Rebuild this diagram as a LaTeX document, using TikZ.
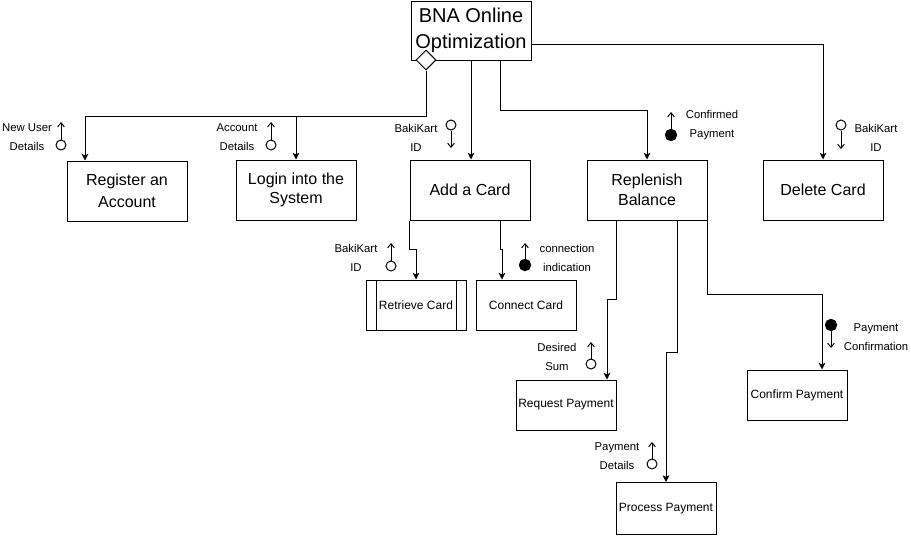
\documentclass[tikz,border=0pt]{standalone}
\usepackage{fontspec}
\setmainfont{Liberation Sans}
\usetikzlibrary{arrows.meta,calc,shapes.geometric}
\begin{document}
\begin{tikzpicture}[x=0.75pt,y=-0.75pt,
  every node/.style={inner sep=0pt},
  proc/.style={draw, line width=0.75pt, align=center, minimum width=90pt, minimum height=45pt, font=\fontsize{12}{14.6}\selectfont},
  subproc/.style={draw, line width=0.75pt, align=center, minimum width=75pt, minimum height=37.5pt, font=\fontsize{9}{10.8}\selectfont},
  conn/.style={line width=0.75pt, -{Stealth[length=5pt,width=5pt,inset=1.2pt]}},
  lbl/.style={align=center, font=\fontsize{8.5}{14.25}\selectfont},
  oc/.style={circle, draw, line width=0.75pt, fill=white, minimum size=7.5pt},
  fc/.style={circle, draw, fill=black, line width=0.75pt, minimum size=8.5pt},
  flow/.style={line width=0.75pt, -{Straight Barb[length=3pt,width=5pt]}},
]
\useasboundingbox (0,0) rectangle (911,536);

% boxes
\node[proc, minimum height=44.25pt, font=\fontsize{15}{19.5}\selectfont] (root) at (471,30.5) {BNA Online\\Optimization};
\node[proc, font=\fontsize{12}{16.5}\selectfont] (reg) at (127,191) {Register an\\Account};
\node[proc] (login) at (296,190) {Login into the\\System};
\node[proc] (add) at (470,190) {Add a Card};
\node[proc] (rep) at (647,190) {Replenish\\Balance};
\node[proc] (del) at (823,190) {Delete Card};
\node[subproc] (ret) at (416,305) {Retrieve Card};
\node[subproc] (con) at (526,305) {Connect Card};
\node[subproc] (req) at (566,405) {Request Payment};
\node[subproc] (cnf) at (797,395) {Confirm Payment};
\node[subproc, minimum height=39pt] (pro) at (666,508.5) {Process Payment};

\draw[line width=0.75pt] ($(ret.north west)+(11,0)$) -- ($(ret.south west)+(11,0)$);
\draw[line width=0.75pt] ($(ret.north east)+(-10,0)$) -- ($(ret.south east)+(-10,0)$);

\node[diamond, draw, fill=white, line width=0.75pt, minimum width=15pt, minimum height=15pt, aspect=1] (dia) at (426,60) {};

% connectors
\draw[conn] (dia.south) -- ++(0,46) -| ($(reg.north)+(-42,0)$);
\draw[conn] (dia.south) -- ++(0,46) -| (login.north);
\draw[conn] (root.south) -- (root.south |- add.north);
\draw[conn] ($(root.south)+(29,0)$) -- ++(0,50) -| (rep.north);
\draw[conn] ($(root.south east)+(0,-16)$) -| (del.north);
\draw[conn] (add.south west) |- ($(ret.north)+(0,-30)$) -- (ret.north);
\draw[conn] ($(add.south)+(30,0)$) |- ($(con.north)+(-24,-30)$) -- ($(con.north)+(-24,0)$);
\draw[conn] ($(rep.south)+(-31,0)$) |- ($(req.north)+(41,-80)$) -- ($(req.north)+(41,0)$);
\draw[conn] ($(rep.south)+(30,0)$) |- ($(pro.north)+(0,-130)$) -- (pro.north);
\draw[conn] (rep.south east) |- ($(cnf.north)+(25,-75)$) -- ($(cnf.north)+(25,0)$);

% data couples
\node[oc] (c1) at (61,145) {}; \coordinate (t1) at (61,122);
\draw[flow] (c1.north) -- (t1);
\node[lbl] (l1) at (27,137.5) {New User\\Details};

\node[oc] (c2) at (271,145) {}; \coordinate (t2) at (271,122);
\draw[flow] (c2.north) -- (t2);
\node[lbl] (l2) at (237,137.5) {Account\\Details};

\node[oc] (c3) at (451,125) {}; \coordinate (t3) at (451,148);
\draw[flow] (c3.south) -- (t3);
\node[lbl] (l3) at (416,137.5) {BakiKart\\ID};

\node[fc] (c4) at (671,135) {}; \coordinate (t4) at (671,112);
\draw[flow] (c4.north) -- (t4);
\node[lbl] (l4) at (712,125) {Confirmed\\Payment};

\node[oc] (c5) at (841,125) {}; \coordinate (t5) at (841,149);
\draw[flow] (c5.south) -- (t5);
\node[lbl] (l5) at (876,137.5) {BakiKart\\ID};

\node[oc] (c6) at (391,266) {}; \coordinate (t6) at (391,243);
\draw[flow] (c6.north) -- (t6);
\node[lbl] (l6) at (356,257.5) {BakiKart\\ID};

\node[fc] (c7) at (525,265) {}; \coordinate (t7) at (525,243);
\draw[flow] (c7.north) -- (t7);
\node[lbl] (l7) at (567,257.5) {connection\\indication};

\node[oc] (c8) at (591,364) {}; \coordinate (t8) at (591,342);
\draw[flow] (c8.north) -- (t8);
\node[lbl] (l8) at (557,356.5) {Desired\\Sum};

\node[fc] (c9) at (831,325) {}; \coordinate (t9) at (831,348);
\draw[flow] (c9.south) -- (t9);
\node[lbl] (l9) at (876,337) {Payment\\Confirmation};

\node[oc] (c10) at (652,464) {}; \coordinate (t10) at (652,442);
\draw[flow] (c10.north) -- (t10);
\node[lbl] (l10) at (617,456.5) {Payment\\Details};
\end{tikzpicture}
\end{document}
